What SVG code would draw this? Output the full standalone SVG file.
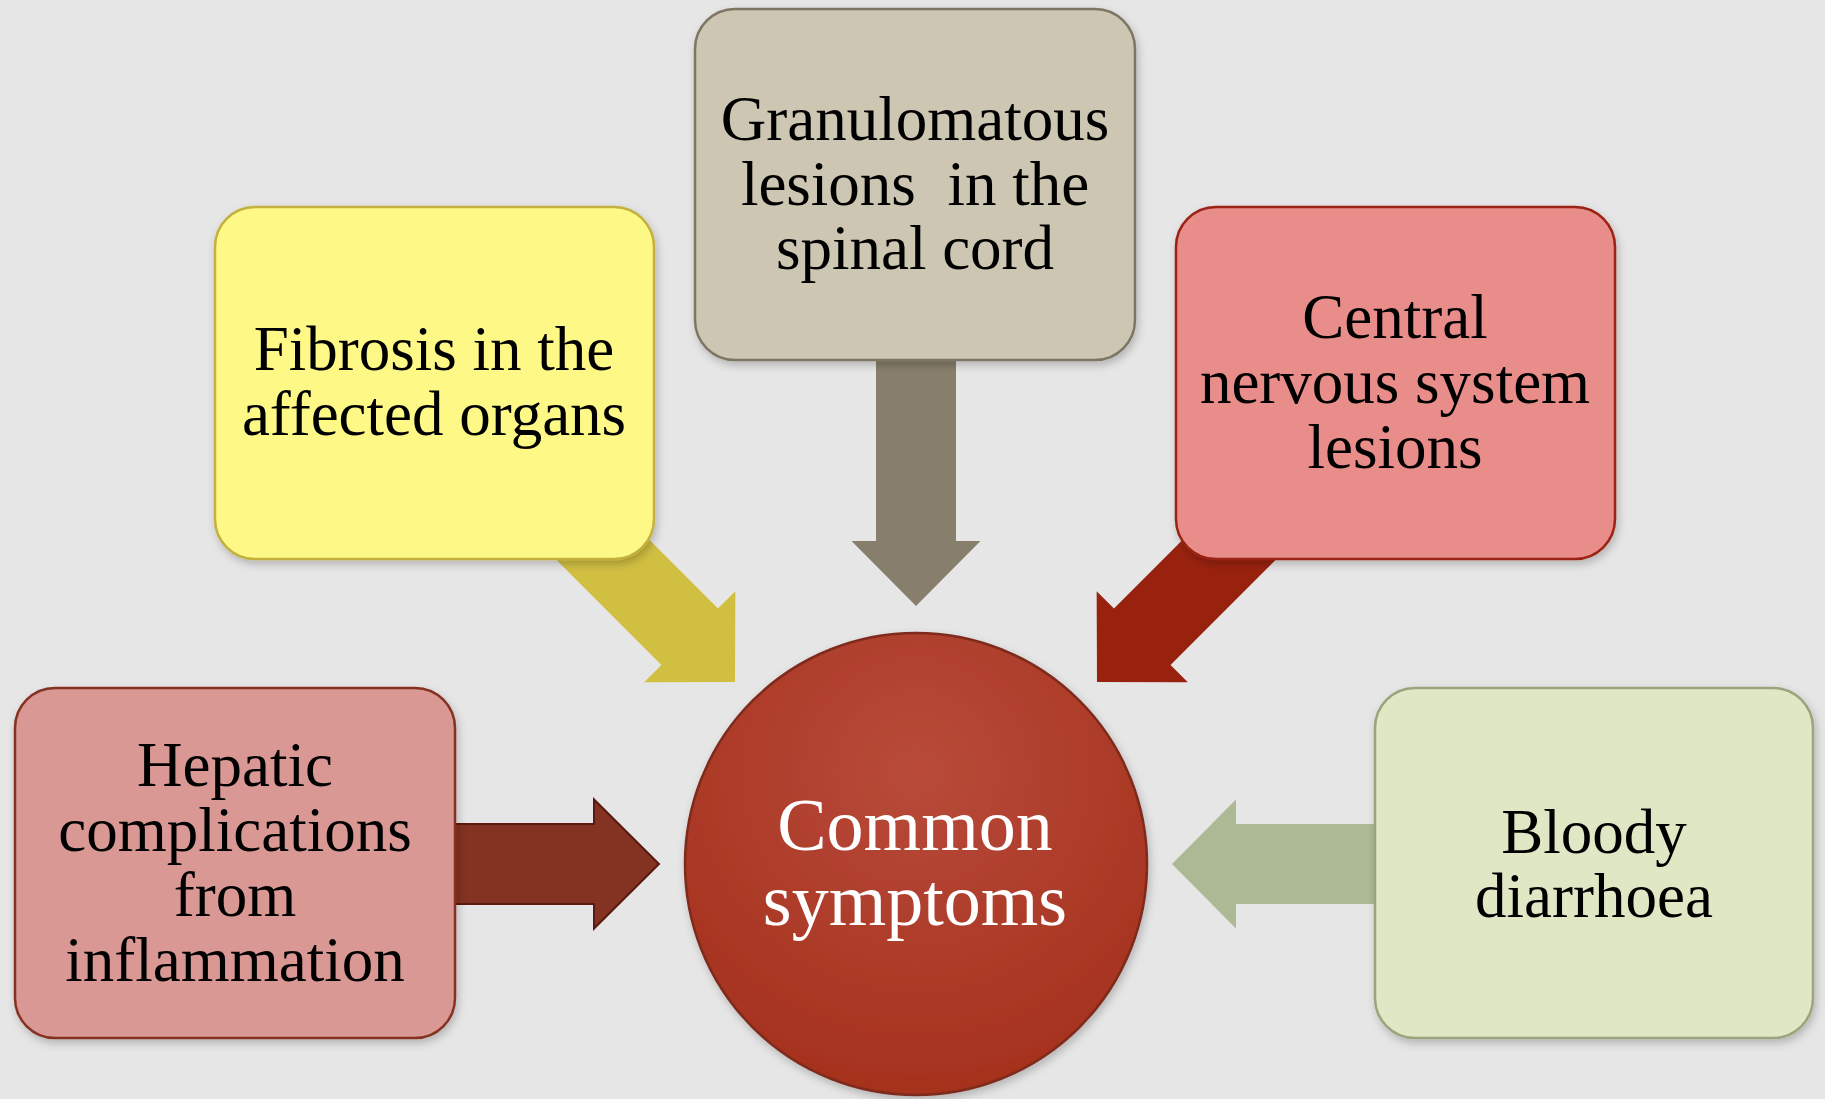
<svg xmlns="http://www.w3.org/2000/svg" width="1825" height="1099" viewBox="0 0 1825 1099">
<style>
.lbl{font-family:"Liberation Serif","Times New Roman",serif;font-size:63px;fill:#000;text-anchor:middle;white-space:pre}
.ctr{font-family:"Liberation Serif","Times New Roman",serif;font-size:74px;fill:#fff;text-anchor:middle}
.box{stroke-width:2.5;filter:url(#sh)}
</style>
<defs>
<filter id="sh" x="-10%" y="-10%" width="120%" height="125%">
<feDropShadow dx="2" dy="4" stdDeviation="4" flood-color="#000" flood-opacity="0.22"/>
</filter>
<radialGradient id="cg" cx="50%" cy="30%" r="75%">
<stop offset="0" stop-color="#b84a3a"/>
<stop offset="1" stop-color="#a4301c"/>
</radialGradient>
<polygon id="diag" points="0,0 -64,-64.5 -64,-40 -240,-40 -240,40 -64,40 -64,64.5"/>
</defs>
<rect width="1825" height="1099" fill="#e6e6e6"/>
<g id="connectors">
<polygon points="440,824 594,824 594,799.5 659,864 594,928.5 594,904 440,904" fill="#843222" stroke="#5a1a10" stroke-width="2"/>
<polygon points="1390,824 1236,824 1236,799.5 1172,864 1236,928.5 1236,904 1390,904" fill="#adb994"/>
<polygon points="876,340 956,340 956,541 980.5,541 916,606 851.5,541 876,541" fill="#877f6b"/>
<use href="#diag" transform="translate(735,682) rotate(45)" fill="#d1bf42"/>
<use href="#diag" transform="translate(1097,682) rotate(135)" fill="#99220e"/>
</g>
<g id="hepatic">
<rect class="box" x="15" y="688" width="440" height="350" rx="40" fill="#d99893" stroke="#853323"/>
<text class="lbl" x="235" y="786">Hepatic</text>
<text class="lbl" x="235" y="851">complications</text>
<text class="lbl" x="235" y="916">from</text>
<text class="lbl" x="235" y="981">inflammation</text>
</g>
<g id="fibrosis">
<rect class="box" x="215" y="207" width="439" height="352" rx="40" fill="#fef987" stroke="#c3b03c"/>
<text class="lbl" x="434" y="370">Fibrosis in the</text>
<text class="lbl" x="434" y="435">affected organs</text>
</g>
<g id="granulomatous">
<rect class="box" x="695" y="9" width="440" height="351" rx="40" fill="#cdc6b3" stroke="#7d7664"/>
<text class="lbl" x="915" y="140">Granulomatous</text>
<text class="lbl" x="915" y="205">lesions  in the</text>
<text class="lbl" x="915" y="269">spinal cord</text>
</g>
<g id="central">
<rect class="box" x="1176" y="207" width="439" height="352" rx="40" fill="#e88d89" stroke="#9a2412"/>
<text class="lbl" x="1395" y="338">Central</text>
<text class="lbl" x="1395" y="403">nervous system</text>
<text class="lbl" x="1395" y="468">lesions</text>
</g>
<g id="bloody">
<rect class="box" x="1375" y="688" width="438" height="350" rx="40" fill="#dfe7c4" stroke="#99a57b"/>
<text class="lbl" x="1594" y="853">Bloody</text>
<text class="lbl" x="1594" y="917">diarrhoea</text>
</g>
<g id="common">
<circle cx="916" cy="864" r="231" fill="url(#cg)" stroke="#7e2a1a" stroke-width="2.5" filter="url(#sh)"/>
<text class="ctr" x="915" y="850">Common</text>
<text class="ctr" x="915" y="925">symptoms</text>
</g>
</svg>
